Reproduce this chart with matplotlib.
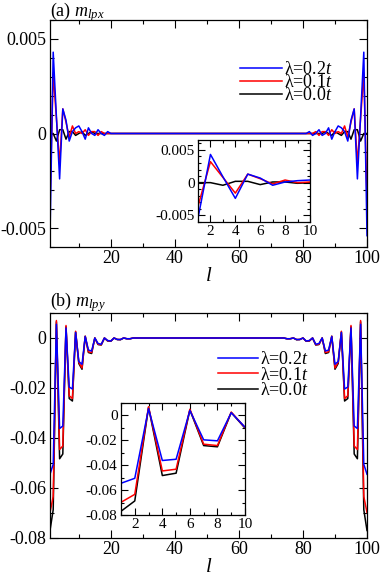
import numpy as np
import matplotlib
matplotlib.use("Agg")
import matplotlib.pyplot as plt
from matplotlib.ticker import FixedLocator, MultipleLocator, FixedFormatter

plt.rcParams['font.family'] = ['Liberation Serif', 'DejaVu Serif']
plt.rcParams['mathtext.fontset'] = 'custom'
plt.rcParams['mathtext.rm'] = 'Liberation Serif'
plt.rcParams['mathtext.it'] = 'Liberation Serif:italic'
plt.rcParams['axes.unicode_minus'] = False

# ---------------- data ----------------
sites = np.arange(1, 101)
labels = ['λ=0.2$t$', 'λ=0.1$t$', 'λ=0.0$t$']
colors = ['#0000ff', '#ff0000', '#000000']

# panel (a) m_lpx, edge profile l = 1..20 (chart is mirror symmetric l <-> 101-l)
a_blue_edge = [-0.0054, 0.0043, 0.0009, -0.0024, 0.0013, 0.0007, -0.0004, 0.0001, 0.0003, 0.0004,
               0.0001, -0.0003, 0.0003, 0.0000, -0.0001, 0.0002, 0.0000, -0.0001, 0.0001, 0.0000]
a_red_edge = [-0.0036, 0.0032, 0.0008, -0.0016, 0.0013, 0.0006, -0.0002, 0.0004, 0.0000, 0.0001,
              0.0000, 0.0002, -0.0001, 0.0001, 0.0001, -0.0001, 0.0001, 0.0000, 0.0000, 0.0000]
a_black_edge = [0.0000, 0.0000, -0.0004, 0.0002, 0.0002, -0.0003, 0.0001, 0.0001, -0.0001, 0.0000,
                0.0001, -0.0001, 0.0000, 0.0001, 0.0000, 0.0000, 0.0000, 0.0000, 0.0000, 0.0000]

# panel (b) m_lpy, edge profile l = 1..26
b_blue_edge = [-0.0545, -0.0505, 0.0055, -0.0362, -0.0352, 0.0040, -0.0196, -0.0204, 0.0022, -0.0094,
               -0.0105, 0.0006, -0.0048, -0.0052, 0.0000, -0.0022, -0.0025, 0.0000, -0.0010, -0.0012,
               0.0000, -0.0006, -0.0006, 0.0000, -0.0003, -0.0003]
b_red_edge = [-0.0698, -0.0634, 0.0070, -0.0446, -0.0432, 0.0050, -0.0231, -0.0242, 0.0027, -0.0097,
              -0.0120, 0.0007, -0.0055, -0.0058, 0.0000, -0.0025, -0.0027, 0.0000, -0.0011, -0.0012,
              0.0000, -0.0006, -0.0006, 0.0000, -0.0003, -0.0003]
b_black_edge = [-0.0770, -0.0687, 0.0065, -0.0483, -0.0464, 0.0045, -0.0242, -0.0252, 0.0024, -0.0102,
                -0.0125, 0.0007, -0.0058, -0.0062, 0.0000, -0.0026, -0.0028, 0.0000, -0.0012, -0.0013,
                0.0000, -0.0006, -0.0007, 0.0000, -0.0003, -0.0003]

a_yticks = [-0.005, 0.0, 0.005]
a_yticklabels = ['-0.005', '0', '0.005']
b_yticks = [-0.08, -0.06, -0.04, -0.02, 0.0]
b_yticklabels = ['-0.08', '-0.06', '-0.04', '-0.02', '0']
main_xticks = [20, 40, 60, 80, 100]
inset_xticks = [2, 4, 6, 8, 10]


def full(edge):
    edge = list(edge)
    mid = [0.0] * (100 - 2 * len(edge))
    return np.array(edge + mid + edge[::-1])


a_series = [full(a_blue_edge), full(a_red_edge), full(a_black_edge)]
b_series = [full(b_blue_edge), full(b_red_edge), full(b_black_edge)]

W, H = 382, 580
fig = plt.figure(figsize=(W / 100, H / 100), dpi=100)


def px_axes(x0, y0, x1, y1):
    return fig.add_axes([x0 / W, 1 - y1 / H, (x1 - x0) / W, (y1 - y0) / H])


def style(ax, fs, major, minor):
    ax.tick_params(which='both', direction='in', top=True, right=True, labelsize=fs,
                   width=0.8, pad=2.5)
    ax.tick_params(which='major', length=major)
    ax.tick_params(which='minor', length=minor)
    for s in ax.spines.values():
        s.set_linewidth(0.9)


def draw(ax, series, lw):
    # draw black first so blue sits on top
    for y, c in list(zip(series, colors))[::-1]:
        ax.plot(sites, y, color=c, lw=lw)


# ---------------- panel (a) ----------------
axa = px_axes(50, 20, 367, 247)
draw(axa, a_series, 1.1)
axa.set_xlim(1, 100)
axa.set_ylim(-0.006, 0.006)
axa.xaxis.set_major_locator(FixedLocator(main_xticks))
axa.xaxis.set_minor_locator(MultipleLocator(10))
axa.yaxis.set_major_locator(FixedLocator(a_yticks))
axa.yaxis.set_major_formatter(FixedFormatter(a_yticklabels))
axa.yaxis.set_minor_locator(MultipleLocator(0.001))
style(axa, 13, 6, 3)
axa.set_xlabel('$l$', fontsize=15, labelpad=0)
axa.text(0.0, 1.018, '(a) $m_{lpx}$', transform=axa.transAxes, fontsize=13,
         ha='left', va='baseline')
hs = [plt.Line2D([], [], color=c, lw=1.1) for c in colors]
axa.legend(hs, labels, loc='upper left', bbox_to_anchor=(0.60, 0.82), frameon=False,
           fontsize=13, handlelength=2.3, handletextpad=0.15, labelspacing=-0.22,
           borderpad=0, borderaxespad=0)

ia = px_axes(198, 140, 310, 222)
draw(ia, a_series, 1.1)
ia.set_xlim(1, 10)
ia.set_ylim(-0.006, 0.0065)
ia.xaxis.set_major_locator(FixedLocator(inset_xticks))
ia.xaxis.set_minor_locator(MultipleLocator(1))
ia.yaxis.set_major_locator(FixedLocator(a_yticks))
ia.yaxis.set_major_formatter(FixedFormatter(a_yticklabels))
ia.yaxis.set_minor_locator(MultipleLocator(0.001))
style(ia, 11, 5, 2.5)

# ---------------- panel (b) ----------------
axb = px_axes(50, 313, 367, 538)
draw(axb, b_series, 1.1)
axb.set_xlim(1, 100)
axb.set_ylim(-0.08, 0.01)
axb.xaxis.set_major_locator(FixedLocator(main_xticks))
axb.xaxis.set_minor_locator(MultipleLocator(10))
axb.yaxis.set_major_locator(FixedLocator(b_yticks))
axb.yaxis.set_major_formatter(FixedFormatter(b_yticklabels))
axb.yaxis.set_minor_locator(MultipleLocator(0.01))
style(axb, 13, 6, 3)
axb.set_xlabel('$l$', fontsize=15, labelpad=0)
axb.text(0.0, 1.03, '(b) $m_{lpy}$', transform=axb.transAxes, fontsize=13,
         ha='left', va='baseline')
axb.legend(hs, labels, loc='upper left', bbox_to_anchor=(0.53, 0.83), frameon=False,
           fontsize=13, handlelength=2.2, handletextpad=0.15, labelspacing=-0.08,
           borderpad=0, borderaxespad=0)

ib = px_axes(121, 403, 245, 515)
draw(ib, b_series, 1.1)
ib.set_xlim(1, 10)
ib.set_ylim(-0.08, 0.01)
ib.xaxis.set_major_locator(FixedLocator(inset_xticks))
ib.xaxis.set_minor_locator(MultipleLocator(1))
ib.yaxis.set_major_locator(FixedLocator(b_yticks))
ib.yaxis.set_major_formatter(FixedFormatter(b_yticklabels))
ib.yaxis.set_minor_locator(MultipleLocator(0.01))
style(ib, 11, 5, 2.5)

fig.savefig('out.png', dpi=100)
